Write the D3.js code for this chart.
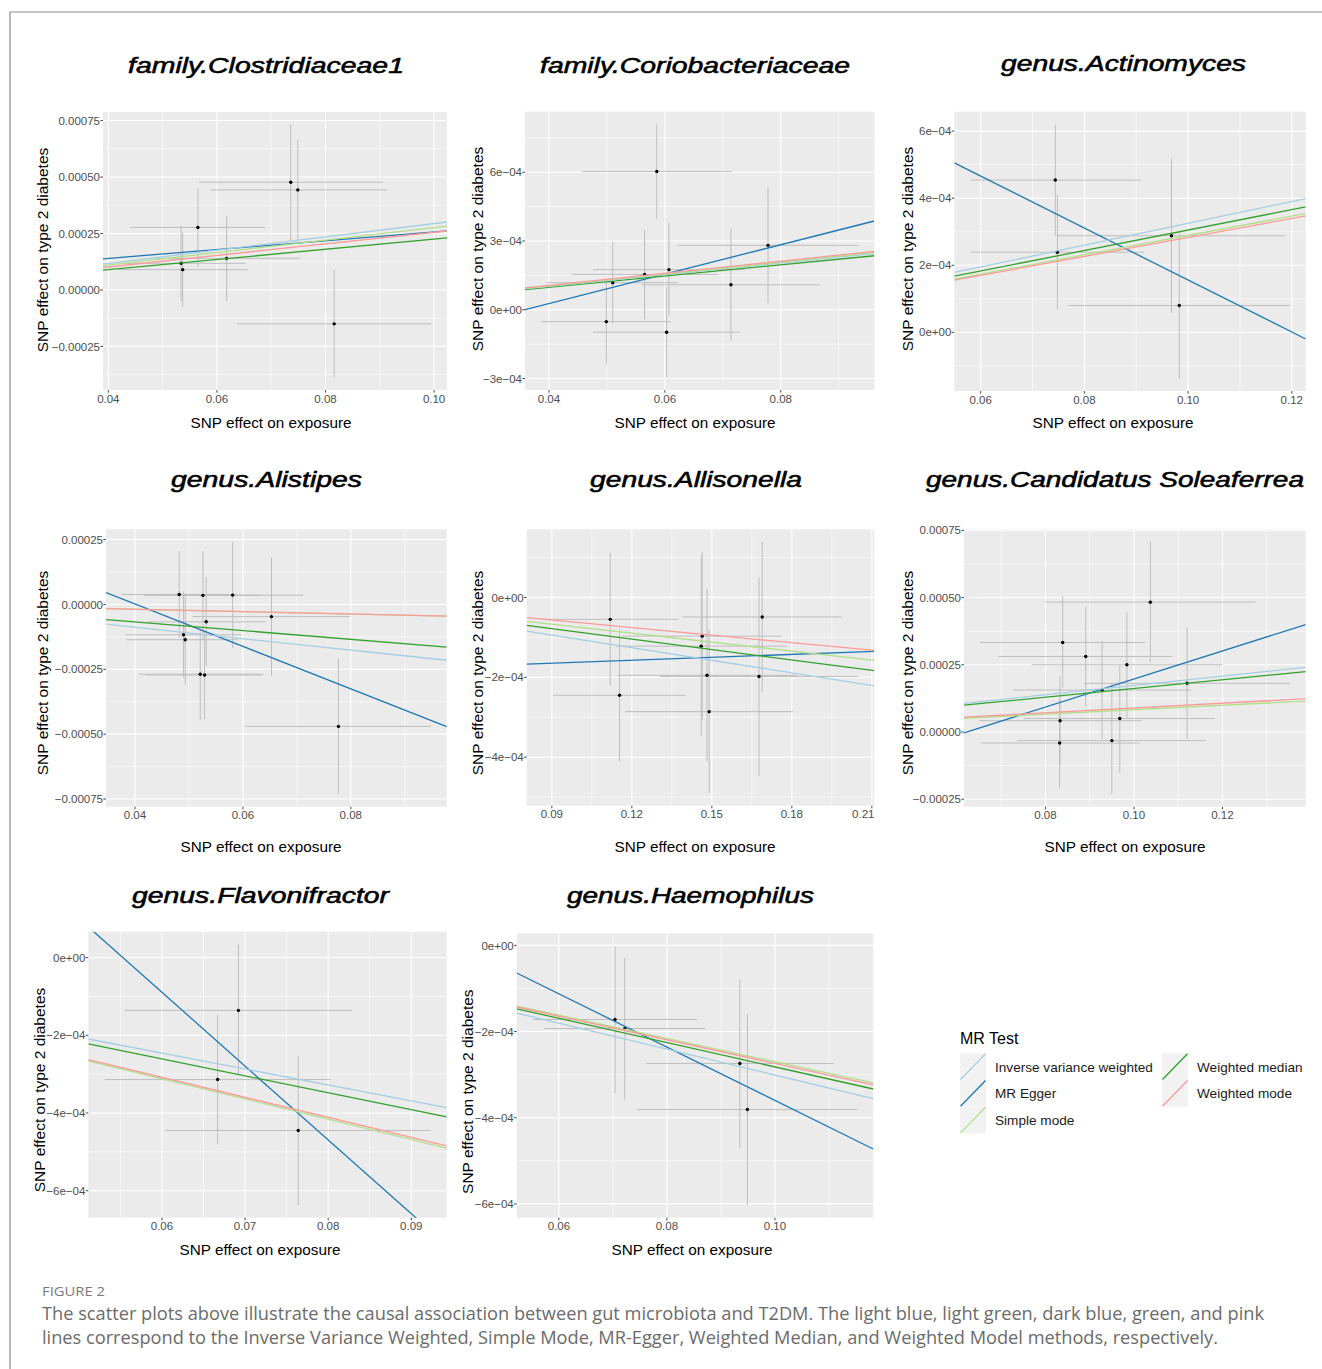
<!DOCTYPE html>
<html><head><meta charset="utf-8">
<script src="https://cdn.jsdelivr.net/npm/d3@7"></script>
<style>body{margin:0;background:#fff;} svg{display:block;}</style>
</head><body>
<svg id="chart" width="1322" height="1369"></svg>
<script>
// ---------------- DATA ----------------
const panelTitles = ["family.Clostridiaceae1", "family.Coriobacteriaceae", "genus.Actinomyces",
  "genus.Alistipes", "genus.Allisonella", "genus.Candidatus Soleaferrea",
  "genus.Flavonifractor", "genus.Haemophilus"];

const methodNames = ["Inverse variance weighted", "MR Egger", "Simple mode", "Weighted median", "Weighted mode"];

// SNP rows: [beta exposure, beta outcome, exposure lo, exposure hi, outcome lo, outcome hi]
const snpsClostridiaceae1 = [
  [0.0736, 4.77e-4, 0.0567, 0.0905, 2.21e-4, 7.32e-4],
  [0.0749, 4.43e-4, 0.0588, 0.0913, 2.21e-4, 6.67e-4],
  [0.0565, 2.77e-4, 0.0440, 0.0689, 1.03e-4, 4.49e-4],
  [0.0618, 1.40e-4, 0.0488, 0.0754, -0.49e-4, 3.28e-4],
  [0.0534, 1.18e-4, 0.0429, 0.0653, -0.49e-4, 2.84e-4],
  [0.0537, 0.90e-4, 0.0419, 0.0657, -0.76e-4, 2.53e-4],
  [0.0816, -1.50e-4, 0.0637, 0.0995, -3.87e-4, 0.88e-4]
];
const snpsCoriobacteriaceae = [
  [0.0586, 6.03e-4, 0.0457, 0.0715, 3.98e-4, 8.09e-4],
  [0.0778, 2.81e-4, 0.0623, 0.0934, 0.29e-4, 5.34e-4],
  [0.0607, 1.75e-4, 0.0476, 0.0738, -0.29e-4, 3.80e-4],
  [0.0565, 1.54e-4, 0.0440, 0.0692, -0.42e-4, 3.47e-4],
  [0.0510, 1.18e-4, 0.0396, 0.0623, -0.61e-4, 2.97e-4],
  [0.0714, 1.09e-4, 0.0560, 0.0868, -1.34e-4, 3.54e-4],
  [0.0499, -0.52e-4, 0.0386, 0.0610, -2.36e-4, 1.31e-4],
  [0.0603, -0.98e-4, 0.0476, 0.0730, -2.95e-4, 0.99e-4]
];
const snpsActinomyces = [
  [0.0744, 4.54e-4, 0.0580, 0.0909, 2.87e-4, 6.20e-4],
  [0.0748, 2.39e-4, 0.0581, 0.0915, 0.68e-4, 4.09e-4],
  [0.0968, 2.88e-4, 0.0748, 0.1187, 0.58e-4, 5.18e-4],
  [0.0983, 0.80e-4, 0.0769, 0.1196, -1.37e-4, 2.97e-4]
];
const snpsAlistipes = [
  [0.0482, 0.385e-4, 0.0375, 0.0589, -1.28e-4, 2.05e-4],
  [0.0526, 0.35e-4, 0.0417, 0.0635, -1.36e-4, 2.05e-4],
  [0.0581, 0.36e-4, 0.0451, 0.0712, -1.69e-4, 2.41e-4],
  [0.0653, -0.47e-4, 0.0507, 0.0798, -2.76e-4, 1.80e-4],
  [0.0532, -0.67e-4, 0.0423, 0.0643, -2.37e-4, 1.05e-4],
  [0.0490, -1.17e-4, 0.0383, 0.0597, -2.82e-4, 0.51e-4],
  [0.0493, -1.36e-4, 0.0383, 0.0590, -3.08e-4, 0.38e-4],
  [0.0521, -2.69e-4, 0.0407, 0.0636, -4.46e-4, -0.92e-4],
  [0.0529, -2.72e-4, 0.0420, 0.0638, -4.42e-4, -1.02e-4],
  [0.0777, -4.70e-4, 0.0604, 0.0949, -7.31e-4, -2.09e-4]
];
const snpsAllisonella = [
  [0.1119, -0.55e-4, 0.0865, 0.1372, -2.21e-4, 1.12e-4],
  [0.1689, -0.49e-4, 0.1391, 0.1986, -2.38e-4, 1.39e-4],
  [0.1464, -0.97e-4, 0.1165, 0.1761, -3.07e-4, 1.14e-4],
  [0.1460, -1.22e-4, 0.1143, 0.1781, -3.47e-4, 1.02e-4],
  [0.1482, -1.95e-4, 0.1146, 0.1821, -4.11e-4, 0.22e-4],
  [0.1677, -1.98e-4, 0.1305, 0.2050, -4.47e-4, 0.50e-4],
  [0.1154, -2.45e-4, 0.0905, 0.1403, -4.11e-4, -0.79e-4],
  [0.1490, -2.86e-4, 0.1175, 0.1805, -4.90e-4, -0.82e-4]
];
const snpsSoleaferrea = [
  [0.1037, 4.83e-4, 0.0800, 0.1275, 2.60e-4, 7.07e-4],
  [0.0839, 3.33e-4, 0.0653, 0.1026, 1.65e-4, 5.05e-4],
  [0.0891, 2.81e-4, 0.0694, 0.1086, 0.97e-4, 4.66e-4],
  [0.0984, 2.50e-4, 0.0769, 0.1200, 0.53e-4, 4.47e-4],
  [0.0928, 1.56e-4, 0.0728, 0.1128, -0.27e-4, 3.38e-4],
  [0.1120, 1.81e-4, 0.0887, 0.1353, -0.27e-4, 3.88e-4],
  [0.0833, 0.42e-4, 0.0651, 0.1017, -1.24e-4, 2.08e-4],
  [0.0968, 0.50e-4, 0.0752, 0.1183, -1.51e-4, 2.49e-4],
  [0.0832, -0.41e-4, 0.0653, 0.1013, -2.07e-4, 1.25e-4],
  [0.0950, -0.32e-4, 0.0737, 0.1163, -2.31e-4, 1.84e-4]
];
const snpsFlavonifractor = [
  [0.0692, -1.36e-4, 0.0555, 0.0829, -3.01e-4, 0.33e-4],
  [0.0667, -3.14e-4, 0.0531, 0.0803, -4.80e-4, -1.47e-4],
  [0.0764, -4.45e-4, 0.0604, 0.0923, -6.36e-4, -2.54e-4]
];
const snpsHaemophilus = [
  [0.0704, -1.72e-4, 0.0552, 0.0856, -3.43e-4, -0.02e-4],
  [0.0722, -1.93e-4, 0.0573, 0.0871, -3.58e-4, -0.29e-4],
  [0.0935, -2.74e-4, 0.0762, 0.1108, -4.71e-4, -0.79e-4],
  [0.0949, -3.81e-4, 0.0745, 0.1152, -6.02e-4, -1.60e-4]
];

// Method slopes: [IVW, MR Egger, Simple mode, Weighted median, Weighted mode]
const slopesClostridiaceae1 = [0.00294, 0.00195, 0.00276, 0.00225, 0.00255];
const slopesCoriobacteriaceae = [0.00255, 0.00641, 0.00260, 0.00245, 0.00265];
const slopesActinomyces = [0.00325, -0.00775, 0.00289, 0.00305, 0.00283];
const slopesAlistipes = [-0.00220, -0.008187, -0.00046, -0.00168, -0.00046];
const slopesAllisonella = [-0.00105, 0.000246, -0.000747, -0.00087, -0.00063];
const slopesSoleaferrea = [0.00173, 0.00522, 0.000829, 0.00162, 0.000893];
const slopesFlavonifractor = [-0.00410, -0.01899, -0.00520, -0.00435, -0.00514];
const slopesHaemophilus = [-0.00301, -0.00619, -0.00270, -0.00282, -0.00274];
// MR Egger intercepts (other methods pass through the origin)
const eggerIntercepts = [0.0000619, -0.000229, 0.000931, 0.0003295, -0.000187, -0.000325, 0.00105, 0.000259];

// Tick values and labels
const xTicks = [
  [0.04, 0.06, 0.08, 0.10], [0.04, 0.06, 0.08], [0.06, 0.08, 0.10, 0.12],
  [0.04, 0.06, 0.08], [0.09, 0.12, 0.15, 0.18, 0.21], [0.08, 0.10, 0.12],
  [0.06, 0.07, 0.08, 0.09], [0.06, 0.08, 0.10]
];
const xTickLabels = [
  ["0.04", "0.06", "0.08", "0.10"], ["0.04", "0.06", "0.08"], ["0.06", "0.08", "0.10", "0.12"],
  ["0.04", "0.06", "0.08"], ["0.09", "0.12", "0.15", "0.18", "0.21"], ["0.08", "0.10", "0.12"],
  ["0.06", "0.07", "0.08", "0.09"], ["0.06", "0.08", "0.10"]
];
const yTicks = [
  [-0.00025, 0, 0.00025, 0.0005, 0.00075], [-3e-4, 0, 3e-4, 6e-4], [0, 2e-4, 4e-4, 6e-4],
  [-0.00075, -0.0005, -0.00025, 0, 0.00025], [-4e-4, -2e-4, 0], [-0.00025, 0, 0.00025, 0.0005, 0.00075],
  [-6e-4, -4e-4, -2e-4, 0], [-6e-4, -4e-4, -2e-4, 0]
];
const yTickLabels = [
  ["\u22120.00025", "0.00000", "0.00025", "0.00050", "0.00075"],
  ["\u22123e\u221204", "0e+00", "3e\u221204", "6e\u221204"],
  ["0e+00", "2e\u221204", "4e\u221204", "6e\u221204"],
  ["\u22120.00075", "\u22120.00050", "\u22120.00025", "0.00000", "0.00025"],
  ["\u22124e\u221204", "\u22122e\u221204", "0e+00"],
  ["\u22120.00025", "0.00000", "0.00025", "0.00050", "0.00075"],
  ["\u22126e\u221204", "\u22124e\u221204", "\u22122e\u221204", "0e+00"],
  ["\u22126e\u221204", "\u22124e\u221204", "\u22122e\u221204", "0e+00"]
];
const xAxisTitle = "SNP effect on exposure";
const yAxisTitle = "SNP effect on type 2 diabetes";
const legendTitle = "MR Test";
const figureLabel = "FIGURE 2";
const captionLines = [
  "The scatter plots above illustrate the causal association between gut microbiota and T2DM. The light blue, light green, dark blue, green, and pink",
  "lines correspond to the Inverse Variance Weighted, Simple Mode, MR-Egger, Weighted Median, and Weighted Model methods, respectively."
];

const panelSnps = [snpsClostridiaceae1, snpsCoriobacteriaceae, snpsActinomyces, snpsAlistipes,
  snpsAllisonella, snpsSoleaferrea, snpsFlavonifractor, snpsHaemophilus];
const panelSlopes = [slopesClostridiaceae1, slopesCoriobacteriaceae, slopesActinomyces, slopesAlistipes,
  slopesAllisonella, slopesSoleaferrea, slopesFlavonifractor, slopesHaemophilus];

// ---------------- LAYOUT / STYLE ----------------
const methodColors = ["#a6cee3", "#1f78b4", "#b2df8a", "#33a02c", "#fb9a99"];
const drawOrder = [1, 3, 0, 2, 4];
const layout = [
  {r: [103, 112, 447, 390], t: [266, 73, 276], xt: [271, 428], yt: [42, 250]},
  {r: [525, 111.7, 874.3, 390], t: [695, 73, 310], xt: [695, 428], yt: [477, 249]},
  {r: [954.3, 111.7, 1305.7, 391], t: [1123.5, 71, 245], xt: [1113, 428], yt: [907, 249]},
  {r: [106, 529.3, 446.7, 806.7], t: [266.5, 487, 191], xt: [261, 852], yt: [42, 673]},
  {r: [526.7, 529.3, 874.3, 805.7], t: [696, 487, 212], xt: [695, 852], yt: [477, 673]},
  {r: [964, 529.3, 1305.7, 806.7], t: [1115, 487, 378], xt: [1125, 852], yt: [907, 673]},
  {r: [88.3, 931.7, 446.7, 1217.7], t: [260.5, 903, 257], xt: [260, 1255], yt: [39.5, 1090]},
  {r: [516.7, 933.3, 873.3, 1217.7], t: [690.5, 903, 247], xt: [692, 1255], yt: [467, 1091.7]}
];
const FONT = "'Liberation Sans', Arial, Helvetica, sans-serif";

const svg = d3.select("#chart");
const defs = svg.append("defs");

// frame
svg.append("path").attr("d", "M10,1369 L10,12 L1322,12")
  .attr("fill", "none").attr("stroke", "#8c8c8c").attr("stroke-width", 1.2);

function expandExtent(lo, hi) {
  const d = (hi - lo) * 0.05;
  return [lo - d, hi + d];
}
function minorBreaks(ticks, domain) {
  const step = ticks.length > 1 ? ticks[1] - ticks[0] : 0;
  const out = [];
  const all = [ticks[0] - step, ...ticks, ticks[ticks.length - 1] + step];
  for (let i = 0; i < all.length - 1; i++) {
    const m = (all[i] + all[i + 1]) / 2;
    if (m >= domain[0] && m <= domain[1]) out.push(m);
  }
  return out;
}

panelSnps.forEach((snps, i) => {
  const L = layout[i];
  const [x0, y0, x1, y1] = L.r;
  const xDom = expandExtent(d3.min(snps, d => d[2]), d3.max(snps, d => d[3]));
  const yDom = expandExtent(d3.min(snps, d => d[4]), d3.max(snps, d => d[5]));
  const x = d3.scaleLinear().domain(xDom).range([x0, x1]);
  const y = d3.scaleLinear().domain(yDom).range([y1, y0]);
  const g = svg.append("g");

  g.append("rect").attr("x", x0).attr("y", y0).attr("width", x1 - x0).attr("height", y1 - y0)
    .attr("fill", "#ebebeb");

  const xMin = minorBreaks(xTicks[i], xDom), yMin = minorBreaks(yTicks[i], yDom);
  g.selectAll(".vmin").data(xMin).enter().append("line")
    .attr("x1", d => x(d)).attr("x2", d => x(d)).attr("y1", y0).attr("y2", y1)
    .attr("stroke", "#fff").attr("stroke-width", 0.55);
  g.selectAll(".hmin").data(yMin).enter().append("line")
    .attr("y1", d => y(d)).attr("y2", d => y(d)).attr("x1", x0).attr("x2", x1)
    .attr("stroke", "#fff").attr("stroke-width", 0.55);
  g.selectAll(".vmaj").data(xTicks[i]).enter().append("line")
    .attr("x1", d => x(d)).attr("x2", d => x(d)).attr("y1", y0).attr("y2", y1)
    .attr("stroke", "#fff").attr("stroke-width", 1.1);
  g.selectAll(".hmaj").data(yTicks[i]).enter().append("line")
    .attr("y1", d => y(d)).attr("y2", d => y(d)).attr("x1", x0).attr("x2", x1)
    .attr("stroke", "#fff").attr("stroke-width", 1.1);

  const clipId = "clip" + i;
  defs.append("clipPath").attr("id", clipId).append("rect")
    .attr("x", x0).attr("y", y0).attr("width", x1 - x0).attr("height", y1 - y0);
  const pg = g.append("g").attr("clip-path", `url(#${clipId})`);

  pg.selectAll(".ev").data(snps).enter().append("line")
    .attr("x1", d => x(d[0])).attr("x2", d => x(d[0]))
    .attr("y1", d => y(d[4])).attr("y2", d => y(d[5]))
    .attr("stroke", "#bebebe").attr("stroke-width", 1);
  pg.selectAll(".eh").data(snps).enter().append("line")
    .attr("y1", d => y(d[1])).attr("y2", d => y(d[1]))
    .attr("x1", d => x(d[2])).attr("x2", d => x(d[3]))
    .attr("stroke", "#bebebe").attr("stroke-width", 1);
  pg.selectAll(".pt").data(snps).enter().append("circle")
    .attr("cx", d => x(d[0])).attr("cy", d => y(d[1])).attr("r", 1.7).attr("fill", "#000");
  const slopes = panelSlopes[i];
  drawOrder.forEach(m => {
    const a = m === 1 ? eggerIntercepts[i] : 0;
    const b = slopes[m];
    pg.append("line")
      .attr("x1", x(xDom[0])).attr("y1", y(a + b * xDom[0]))
      .attr("x2", x(xDom[1])).attr("y2", y(a + b * xDom[1]))
      .attr("stroke", methodColors[m]).attr("stroke-width", 1.3);
  });

  const tickCol = "#333333";
  g.selectAll(".xt").data(xTicks[i]).enter().append("line")
    .attr("x1", d => x(d)).attr("x2", d => x(d)).attr("y1", y1).attr("y2", y1 + 2.6)
    .attr("stroke", tickCol).attr("stroke-width", 0.9);
  g.selectAll(".yt").data(yTicks[i]).enter().append("line")
    .attr("y1", d => y(d)).attr("y2", d => y(d)).attr("x1", x0 - 2.6).attr("x2", x0)
    .attr("stroke", tickCol).attr("stroke-width", 0.9);

  g.selectAll(".xl").data(xTicks[i]).enter().append("text")
    .attr("x", d => Math.min(x(d), x1 - 11)).attr("y", y1 + 12.5)
    .attr("text-anchor", "middle").attr("font-family", FONT).attr("font-size", 11.5)
    .attr("fill", "#4d4d4d").text((d, k) => xTickLabels[i][k]);
  g.selectAll(".yl").data(yTicks[i]).enter().append("text")
    .attr("x", x0 - 3).attr("y", d => y(d)).attr("dy", "0.36em")
    .attr("text-anchor", "end").attr("font-family", FONT).attr("font-size", 11.5)
    .attr("fill", "#4d4d4d").text((d, k) => yTickLabels[i][k]);

  g.append("text").attr("x", L.t[0]).attr("y", L.t[1]).attr("text-anchor", "middle")
    .attr("font-family", FONT).attr("font-weight", "normal").attr("font-style", "italic")
    .attr("font-size", 21.5).attr("fill", "#000").attr("stroke", "#000").attr("stroke-width", 0.55)
    .attr("textLength", L.t[2]).attr("lengthAdjust", "spacingAndGlyphs")
    .text(panelTitles[i]);
  g.append("text").attr("x", L.xt[0]).attr("y", L.xt[1]).attr("text-anchor", "middle")
    .attr("font-family", FONT).attr("font-size", 15.3).attr("fill", "#000").text(xAxisTitle);
  g.append("text").attr("transform", `translate(${L.yt[0]},${L.yt[1]}) rotate(-90)`)
    .attr("text-anchor", "middle").attr("dy", "0.36em")
    .attr("font-family", FONT).attr("font-size", 15.5).attr("fill", "#000").text(yAxisTitle);
});

// ---------------- LEGEND ----------------
const lg = svg.append("g");
lg.append("text").attr("x", 960).attr("y", 1044).attr("font-family", FONT).attr("font-size", 16)
  .attr("fill", "#000").text(legendTitle);
const legendPos = [[960, 1053.3], [960, 1080], [960, 1106.7], [1162, 1053.3], [1162, 1080]];
methodNames.forEach((name, m) => {
  const [kx, ky] = legendPos[m];
  const kw = 26, kh = 26.7;
  lg.append("rect").attr("x", kx).attr("y", ky).attr("width", kw).attr("height", kh).attr("fill", "#f2f2f2");
  lg.append("line").attr("x1", kx + 0.5).attr("y1", ky + kh - 0.5).attr("x2", kx + kw - 0.5).attr("y2", ky + 0.5)
    .attr("stroke", methodColors[m]).attr("stroke-width", 1.3);
  lg.append("text").attr("x", kx + kw + 9).attr("y", ky + kh / 2).attr("dy", "0.36em")
    .attr("font-family", FONT).attr("font-size", 13.6).attr("fill", "#1a1a1a").text(name);
});

// ---------------- CAPTION ----------------
svg.append("text").attr("x", 42).attr("y", 1296).attr("font-family", "'Open Sans', 'Noto Sans', sans-serif")
  .attr("font-size", 12).attr("fill", "#7a7a7a").attr("textLength", 63).attr("lengthAdjust", "spacingAndGlyphs")
  .text(figureLabel);
const capLens = [1222, 1176];
captionLines.forEach((line, k) => {
  svg.append("text").attr("x", 42).attr("y", 1320 + k * 24)
    .attr("font-family", "'Open Sans', 'Noto Sans', sans-serif").attr("font-size", 17.5)
    .attr("fill", "#6b6b6b").attr("textLength", capLens[k]).attr("lengthAdjust", "spacingAndGlyphs")
    .text(line);
});
</script>
</body></html>
